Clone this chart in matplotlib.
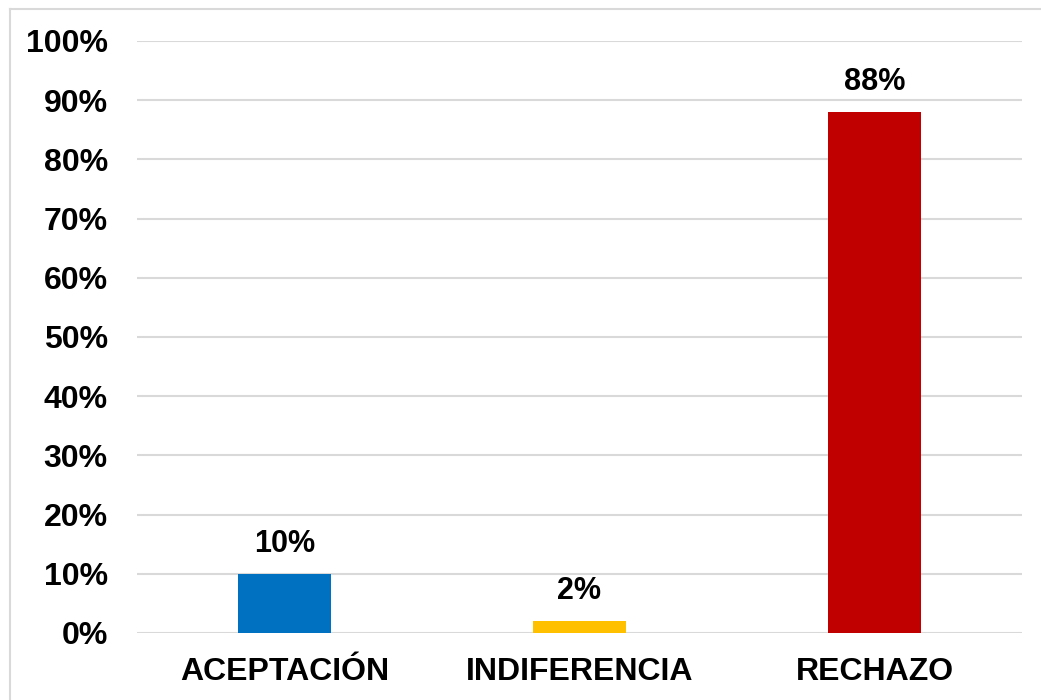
import matplotlib.pyplot as plt
from matplotlib.lines import Line2D

categories = ["ACEPTACIÓN", "INDIFERENCIA", "RECHAZO"]
values = [0.10, 0.02, 0.88]
labels = ["10%", "2%", "88%"]
colors = ["#0070C0", "#FFC000", "#C00000"]
yticks = [i / 10 for i in range(11)]
ytick_labels = [f"{i * 10}%" for i in range(11)]

plt.rcParams['font.family'] = ['Liberation Sans', 'DejaVu Sans']
plt.rcParams['font.weight'] = 'bold'

fig = plt.figure(figsize=(10.41, 7), dpi=100)
ax = fig.add_axes([137 / 1041, 1 - 633 / 700, (1022 - 137) / 1041, (633 - 41) / 700])

x = range(len(categories))
bars = ax.bar(x, values, width=0.315, color=colors, zorder=3)

for b, lab in zip(bars, labels):
    ax.annotate(lab, (b.get_x() + b.get_width() / 2, b.get_height()),
                xytext=(0, 11), textcoords='offset points',
                ha='center', va='bottom', fontsize=22, fontweight='bold')

ax.set_ylim(0, 1)
ax.set_xlim(-0.5, 2.5)
ax.set_yticks(yticks)
ax.set_yticklabels(ytick_labels)
ax.set_xticks(list(x))
ax.set_xticklabels(categories)
ax.tick_params(axis='y', length=0, pad=21, labelsize=23)
ax.tick_params(axis='x', length=0, pad=17, labelsize=23)
ax.grid(axis='y', color='#d9d9d9', linewidth=1.5, zorder=0)
for s in ax.spines.values():
    s.set_visible(False)

# outer chart frame
fig.add_artist(Line2D([10 / 1041, 1], [1 - 9 / 700, 1 - 9 / 700], color='#d9d9d9', lw=1.5))
fig.add_artist(Line2D([10 / 1041, 10 / 1041], [0, 1 - 9 / 700], color='#d9d9d9', lw=1.5))

fig.savefig("out.png", dpi=100)
